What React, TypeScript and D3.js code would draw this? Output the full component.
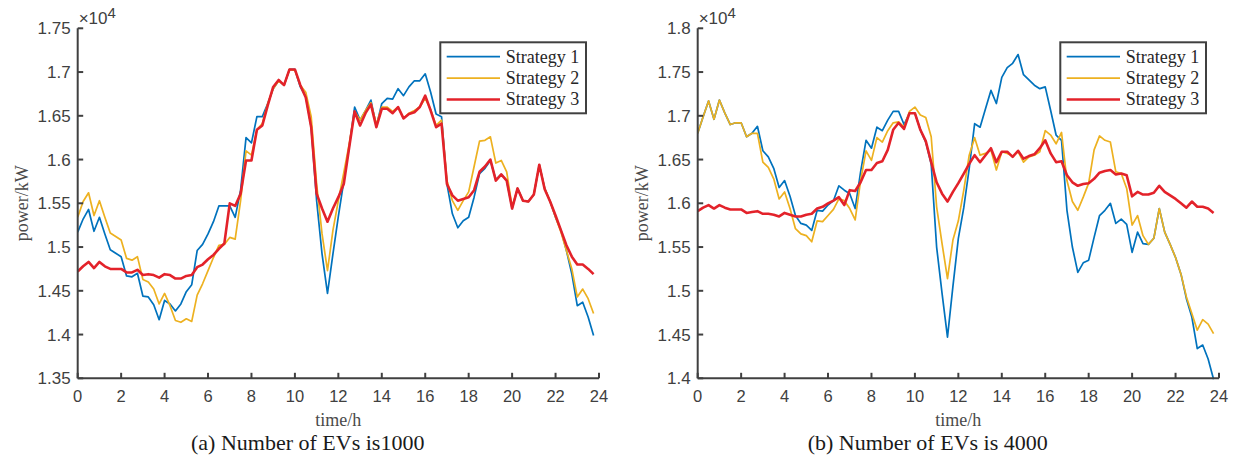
import React from 'react';
import * as d3 from 'd3';

// time axis: one sample every 15 minutes
const hours = d3.range(96).map(i => i * 0.25);
const xTicks = d3.range(0, 25, 2);
const yTicksA = [1.35, 1.4, 1.45, 1.5, 1.55, 1.6, 1.65, 1.7, 1.75];
const yTicksB = [1.4, 1.45, 1.5, 1.55, 1.6, 1.65, 1.7, 1.75, 1.8];
const seriesNames = ['Strategy 1', 'Strategy 2', 'Strategy 3'];
const colors = ['#0072bd', '#edb120', '#e3222a'];
const widths = [1.7, 1.7, 2.6];

// (a) 1000 EVs, power in 10^4 kW
const a1 = [
  1.517, 1.532, 1.543, 1.518, 1.534, 1.515, 1.497, 1.493,
  1.489, 1.467, 1.466, 1.470, 1.444, 1.443, 1.434, 1.417,
  1.439, 1.435, 1.427, 1.435, 1.449, 1.457, 1.496, 1.503,
  1.515, 1.529, 1.547, 1.547, 1.547, 1.534, 1.565, 1.625,
  1.619, 1.649, 1.649, 1.664, 1.681, 1.690, 1.685, 1.703,
  1.703, 1.683, 1.672, 1.637, 1.553, 1.492, 1.447, 1.492,
  1.535, 1.575, 1.615, 1.660, 1.645, 1.656, 1.668, 1.638,
  1.664, 1.670, 1.669, 1.681, 1.673, 1.683, 1.690, 1.690,
  1.698, 1.677, 1.652, 1.649, 1.572, 1.538, 1.522, 1.530,
  1.534, 1.557, 1.584, 1.590, 1.599, 1.577, 1.583, 1.576,
  1.544, 1.567, 1.553, 1.552, 1.560, 1.594, 1.567, 1.552,
  1.534, 1.519, 1.496, 1.469, 1.433, 1.437, 1.420, 1.399,
];
const a2 = [
  1.534, 1.552, 1.562, 1.536, 1.553, 1.534, 1.516, 1.512,
  1.508, 1.487, 1.485, 1.489, 1.463, 1.460, 1.452, 1.435,
  1.447, 1.433, 1.416, 1.414, 1.418, 1.415, 1.445, 1.458,
  1.473, 1.488, 1.502, 1.503, 1.511, 1.509, 1.553, 1.610,
  1.605, 1.634, 1.641, 1.664, 1.681, 1.690, 1.685, 1.703,
  1.702, 1.685, 1.677, 1.649, 1.572, 1.515, 1.473, 1.519,
  1.553, 1.585, 1.618, 1.655, 1.645, 1.656, 1.665, 1.640,
  1.660, 1.660, 1.655, 1.660, 1.647, 1.653, 1.656, 1.660,
  1.670, 1.657, 1.639, 1.645, 1.576, 1.553, 1.542, 1.553,
  1.563, 1.592, 1.621, 1.622, 1.626, 1.596, 1.599, 1.586,
  1.546, 1.567, 1.553, 1.552, 1.560, 1.594, 1.567, 1.552,
  1.534, 1.517, 1.496, 1.475, 1.443, 1.452, 1.441, 1.424,
];
const a3 = [
  1.472, 1.478, 1.483, 1.476, 1.483, 1.478, 1.475, 1.475,
  1.475, 1.471, 1.471, 1.474, 1.468, 1.469, 1.468, 1.465,
  1.469, 1.468, 1.464, 1.464, 1.467, 1.468, 1.477, 1.480,
  1.486, 1.491, 1.498, 1.504, 1.550, 1.547, 1.561, 1.599,
  1.599, 1.634, 1.639, 1.662, 1.683, 1.691, 1.685, 1.703,
  1.703, 1.685, 1.671, 1.637, 1.561, 1.544, 1.529, 1.544,
  1.557, 1.572, 1.614, 1.655, 1.639, 1.653, 1.663, 1.637,
  1.658, 1.658, 1.653, 1.660, 1.647, 1.652, 1.654, 1.660,
  1.673, 1.656, 1.637, 1.641, 1.572, 1.559, 1.553, 1.555,
  1.557, 1.565, 1.586, 1.592, 1.600, 1.576, 1.583, 1.576,
  1.544, 1.567, 1.553, 1.552, 1.560, 1.594, 1.566, 1.552,
  1.536, 1.519, 1.502, 1.489, 1.480, 1.480, 1.475, 1.469,
];

// (b) 4000 EVs
const b1 = [
  1.680, 1.699, 1.717, 1.696, 1.718, 1.703, 1.690, 1.692,
  1.692, 1.676, 1.680, 1.688, 1.660, 1.653, 1.640, 1.618,
  1.626, 1.608, 1.586, 1.577, 1.575, 1.569, 1.592, 1.591,
  1.598, 1.603, 1.620, 1.615, 1.611, 1.594, 1.636, 1.672,
  1.663, 1.687, 1.683, 1.695, 1.705, 1.705, 1.690, 1.703,
  1.703, 1.684, 1.670, 1.645, 1.550, 1.497, 1.447, 1.505,
  1.560, 1.595, 1.640, 1.691, 1.687, 1.708, 1.729, 1.714,
  1.744, 1.755, 1.760, 1.770, 1.747, 1.741, 1.735, 1.731,
  1.733, 1.706, 1.678, 1.672, 1.592, 1.550, 1.521, 1.532,
  1.535, 1.561, 1.586, 1.592, 1.600, 1.577, 1.582, 1.576,
  1.544, 1.567, 1.554, 1.553, 1.560, 1.594, 1.567, 1.553,
  1.538, 1.519, 1.491, 1.470, 1.434, 1.438, 1.422, 1.399,
];
const b2 = [
  1.680, 1.699, 1.717, 1.696, 1.718, 1.703, 1.690, 1.692,
  1.692, 1.676, 1.680, 1.680, 1.647, 1.641, 1.628, 1.605,
  1.613, 1.594, 1.571, 1.565, 1.563, 1.556, 1.580, 1.579,
  1.586, 1.593, 1.605, 1.603, 1.594, 1.581, 1.626, 1.660,
  1.649, 1.675, 1.670, 1.683, 1.692, 1.693, 1.687, 1.705,
  1.710, 1.701, 1.698, 1.676, 1.596, 1.554, 1.514, 1.558,
  1.580, 1.615, 1.655, 1.675, 1.655, 1.657, 1.661, 1.638,
  1.659, 1.657, 1.654, 1.659, 1.647, 1.653, 1.655, 1.659,
  1.683, 1.678, 1.668, 1.681, 1.626, 1.602, 1.592, 1.607,
  1.623, 1.661, 1.677, 1.672, 1.670, 1.636, 1.634, 1.617,
  1.575, 1.586, 1.563, 1.553, 1.560, 1.594, 1.567, 1.553,
  1.538, 1.519, 1.493, 1.474, 1.455, 1.467, 1.462, 1.451,
];
const b3 = [
  1.591, 1.595, 1.598, 1.594, 1.598, 1.595, 1.593, 1.593,
  1.593, 1.589, 1.590, 1.591, 1.588, 1.588, 1.587, 1.585,
  1.589, 1.587, 1.585, 1.585, 1.587, 1.588, 1.594, 1.596,
  1.600, 1.603, 1.607, 1.598, 1.615, 1.614, 1.624, 1.638,
  1.638, 1.646, 1.648, 1.661, 1.684, 1.692, 1.685, 1.703,
  1.703, 1.684, 1.671, 1.647, 1.624, 1.611, 1.602, 1.613,
  1.623, 1.634, 1.645, 1.655, 1.647, 1.655, 1.663, 1.647,
  1.659, 1.659, 1.653, 1.660, 1.651, 1.654, 1.656, 1.663,
  1.672, 1.657, 1.647, 1.648, 1.632, 1.624, 1.620, 1.622,
  1.623, 1.628, 1.635, 1.637, 1.638, 1.633, 1.634, 1.632,
  1.608, 1.613, 1.610, 1.610, 1.612, 1.620, 1.613, 1.609,
  1.605, 1.600, 1.595, 1.602, 1.596, 1.596, 1.594, 1.589,
];

const axisColor = '#404040';
const sans = '"Liberation Sans", Arial, Helvetica, sans-serif';
const serif = '"Liberation Serif", "Times New Roman", serif';

type PanelProps = {
  left: number;
  right: number;
  yTicks: number[];
  series: number[][];
  caption: string;
};

const Panel = ({ left, right, yTicks, series, caption }: PanelProps) => {
  const top = 28.3;
  const bottom = 378.3;
  const x = d3.scaleLinear().domain([0, 24]).range([left, right]);
  const y = d3.scaleLinear().domain(d3.extent(yTicks) as [number, number]).range([bottom, top]);
  const line = d3.line<number>().x((_, i) => x(hours[i])).y(d => y(d));

  const lx = left + 362.6;
  const ly = 42.3;

  return (
    <g>
      {series.map((s, k) => (
        <path key={k} d={line(s) || ''} fill="none" stroke={colors[k]} strokeWidth={widths[k]} strokeLinejoin="round" />
      ))}

      {/* axes, ticks pointing inward */}
      <line x1={left} x2={left} y1={top} y2={bottom} stroke={axisColor} strokeWidth={2} />
      <line x1={left} x2={right} y1={bottom} y2={bottom} stroke={axisColor} strokeWidth={2} />
      {xTicks.map(t => (
        <g key={t}>
          <line x1={x(t)} x2={x(t)} y1={bottom} y2={bottom - 5.5} stroke={axisColor} strokeWidth={2} />
          <text x={x(t)} y={402} textAnchor="middle" fontFamily={sans} fontSize={16.5} fill={axisColor}>{t}</text>
        </g>
      ))}
      {yTicks.map(v => (
        <g key={v}>
          <line x1={left} x2={left + 5.5} y1={y(v)} y2={y(v)} stroke={axisColor} strokeWidth={2} />
          <text x={left - 7} y={y(v) + 6} textAnchor="end" fontFamily={sans} fontSize={17} fill={axisColor}>{+v.toFixed(2)}</text>
        </g>
      ))}
      <text x={left + 1} y={24} fontFamily={sans} fontSize={17} fill={axisColor}>
        ×10<tspan dy={-6} fontSize={15}>4</tspan>
      </text>

      <text x={(left + right) / 2} y={426} textAnchor="middle" fontFamily={serif} fontSize={18} fill="#4a4a4a">time/h</text>
      <text transform={`translate(${left - 50},${(top + bottom) / 2}) rotate(-90)`} textAnchor="middle" fontFamily={serif} fontSize={18} fill="#4a4a4a">power/kW</text>
      <text x={left + 230} y={450} textAnchor="middle" fontFamily={serif} fontSize={22} fill="#1a1a1a">{caption}</text>

      {/* legend */}
      <rect x={lx} y={ly} width={145.7} height={71} fill="#fff" stroke={axisColor} strokeWidth={2} />
      {seriesNames.map((name, k) => {
        const cy = ly + 14.4 + k * 21.4;
        return (
          <g key={name}>
            <line x1={lx + 6.4} x2={lx + 59.7} y1={cy} y2={cy} stroke={colors[k]} strokeWidth={widths[k]} />
            <text x={lx + 65.4} y={cy + 5.8} fontFamily={serif} fontSize={18} fill="#262626">{name}</text>
          </g>
        );
      })}
    </g>
  );
};

export default function App() {
  return (
    <svg width={1234} height={461} style={{ position: 'absolute', left: 0, top: 0, background: '#fff' }}>
      <Panel left={77.7} right={599} yTicks={yTicksA} series={[a1, a2, a3]} caption="(a) Number of EVs is1000" />
      <Panel left={697.7} right={1219} yTicks={yTicksB} series={[b1, b2, b3]} caption="(b) Number of EVs is 4000" />
    </svg>
  );
}
